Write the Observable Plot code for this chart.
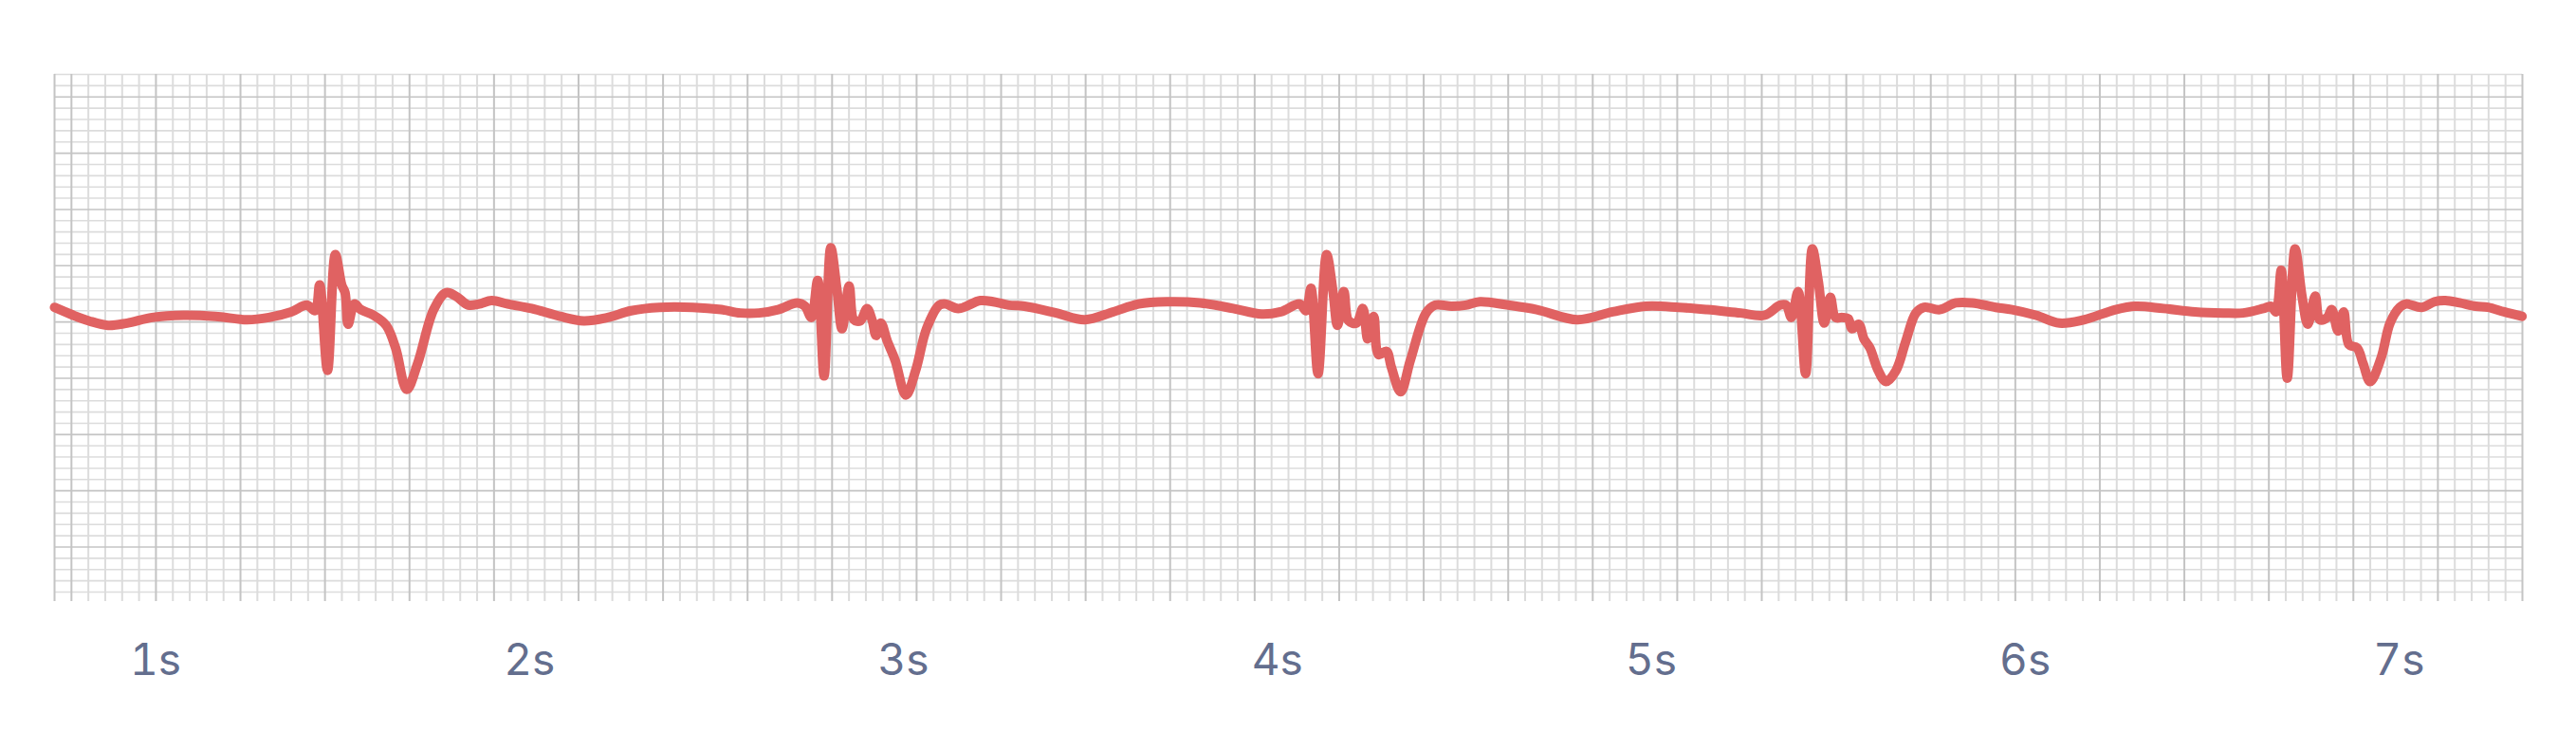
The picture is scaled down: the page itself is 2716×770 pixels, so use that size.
<!DOCTYPE html>
<html>
<head>
<meta charset="utf-8">
<script src="https://cdn.jsdelivr.net/npm/d3@7"></script>
<script src="https://cdn.jsdelivr.net/npm/@observablehq/plot@0.6"></script>
<style>
  html, body { margin: 0; padding: 0; background: #ffffff; }
  #chart svg { display: block; }
</style>
</head>
<body>
<div id="chart"></div>
<script>
// ECG trace: time (s) and amplitude (mV)
const times = [
  0.730,0.780,0.822,0.873,0.924,0.991,1.076,1.160,1.245,1.303,
  1.363,1.405,1.427,1.439,1.460,1.481,1.498,1.507,1.515,1.532,
  1.549,1.583,1.617,1.642,1.672,1.701,1.744,1.777,1.803,1.837,
  1.866,1.899,1.942,2.006,2.082,2.145,2.209,2.272,2.348,2.437,
  2.513,2.564,2.614,2.665,2.716,2.737,2.754,2.771,2.788,2.806,
  2.822,2.836,2.855,2.868,2.885,2.903,2.917,2.927,2.940,2.957,
  2.978,3.007,3.033,3.062,3.096,3.113,3.147,3.206,3.240,3.282,
  3.324,3.409,3.485,3.561,3.629,3.705,3.794,3.882,3.958,4.009,
  4.060,4.077,4.090,4.109,4.132,4.149,4.161,4.178,4.191,4.212,
  4.229,4.242,4.258,4.271,4.292,4.305,4.330,4.356,4.398,4.423,
  4.466,4.504,4.542,4.618,4.694,4.803,4.897,4.986,5.074,5.150,
  5.239,5.303,5.345,5.361,5.375,5.393,5.413,5.431,5.447,5.463,
  5.479,5.493,5.511,5.527,5.537,5.555,5.569,5.585,5.607,5.628,
  5.655,5.681,5.708,5.730,5.772,5.815,5.858,5.922,5.965,6.029,
  6.092,6.157,6.242,6.295,6.370,6.455,6.530,6.583,6.637,6.658,
  6.671,6.685,6.701,6.722,6.741,6.756,6.776,6.788,6.808,6.820,
  6.837,6.852,6.866,6.888,6.904,6.923,6.952,6.976,7.002,7.019,
  7.061,7.095,7.124,7.162,7.205,7.238,7.281,7.329
];
const millivolts = [
  0.13,0.06,0.01,-0.03,-0.01,0.04,0.06,0.05,0.02,0.04,
  0.09,0.15,0.10,0.33,-0.43,0.60,0.33,0.26,-0.02,0.16,
  0.11,0.06,-0.03,-0.23,-0.60,-0.37,0.11,0.26,0.23,0.15,
  0.16,0.19,0.16,0.12,0.05,0.01,0.04,0.10,0.13,0.13,
  0.11,0.08,0.08,0.11,0.17,0.14,0.04,0.37,-0.48,0.66,
  0.30,-0.06,0.32,0.02,0.01,0.12,0.01,-0.12,-0.01,-0.17,
  -0.34,-0.65,-0.43,-0.06,0.15,0.16,0.12,0.19,0.18,0.15,
  0.14,0.08,0.02,0.09,0.16,0.18,0.17,0.12,0.07,0.09,
  0.16,0.10,0.30,-0.46,0.60,0.27,-0.03,0.27,0.01,-0.01,
  0.12,-0.15,0.05,-0.29,-0.26,-0.40,-0.62,-0.34,0.08,0.15,
  0.14,0.15,0.18,0.15,0.11,0.02,0.09,0.14,0.13,0.11,
  0.08,0.06,0.15,0.15,0.04,0.27,-0.46,0.65,0.36,-0.01,
  0.22,0.04,0.04,0.03,-0.06,-0.02,-0.15,-0.23,-0.43,-0.53,
  -0.43,-0.17,0.08,0.13,0.11,0.17,0.17,0.13,0.11,0.06,
  -0.01,0.02,0.11,0.14,0.12,0.09,0.08,0.08,0.12,0.14,
  0.09,0.46,-0.50,0.65,0.22,-0.02,0.23,0.02,0.04,0.11,
  -0.08,0.09,-0.20,-0.23,-0.37,-0.53,-0.32,-0.01,0.13,0.16,
  0.13,0.18,0.19,0.17,0.14,0.13,0.09,0.05
];
const secondTicks = [1, 2, 3, 4, 5, 6, 7];
const tickLabels = ["1s", "2s", "3s", "4s", "5s", "6s", "7s"];

// Axis extents and paper grid
const timeDomain = [0.73, 7.33];
const voltDomain = [-2.4, 2.2];
const timeDivisions = 146;      // small boxes across
const voltStepMinor = 0.1;
const voltStepMajor = 0.5;

const ecg = times.map((t, i) => ({t, mv: millivolts[i]}));

const timeStep = (timeDomain[1] - timeDomain[0]) / timeDivisions;
const xGrid = d3.range(0, timeDivisions + 1).map(k => ({k, t: timeDomain[0] + k * timeStep}));
const xMinor = xGrid.filter(d => d.k % 5 !== 1 && d.k !== 0).map(d => d.t);
const xMajor = xGrid.filter(d => d.k % 5 === 1 || d.k === 0).map(d => d.t);
const yAll = d3.range(Math.round(voltDomain[0] / voltStepMinor), Math.round(voltDomain[1] / voltStepMinor) + 1)
  .map(k => k * voltStepMinor);
const yMajor = yAll.filter(v => Math.abs(v / voltStepMajor - Math.round(v / voltStepMajor)) < 1e-6);
const yMinor = yAll.filter(v => !yMajor.includes(v));

const minorColor = "#dcdcdc";
const majorColor = "#c4c4c4";

const chart = Plot.plot({
  width: 2716,
  height: 770,
  marginLeft: 57,
  marginRight: 57,
  marginTop: 78,
  marginBottom: 136,
  style: {fontFamily: "Inter, 'Noto Sans', sans-serif", color: "#636e8e", background: "#ffffff"},
  x: {domain: timeDomain, axis: null},
  y: {domain: voltDomain, insetBottom: 10, axis: null},
  marks: [
    Plot.ruleY(yMinor, {stroke: minorColor, strokeWidth: 1.6}),
    Plot.ruleX(xMinor, {stroke: minorColor, strokeWidth: 2}),
    Plot.ruleY(yMajor, {stroke: majorColor, strokeWidth: 1.6}),
    Plot.ruleX(xMajor, {stroke: majorColor, strokeWidth: 2}),
    Plot.axisX(secondTicks, {
      tickSize: 0,
      tickPadding: 45,
      fontSize: 46,
      tickFormat: (d) => tickLabels[secondTicks.indexOf(d)],
      label: null
    }),
    Plot.line(ecg, {
      x: "t",
      y: "mv",
      stroke: "#e06262",
      strokeWidth: 10,
      curve: "catmull-rom",
      strokeLinejoin: "round",
      strokeLinecap: "round"
    })
  ]
});
document.getElementById("chart").appendChild(chart);
</script>
</body>
</html>
